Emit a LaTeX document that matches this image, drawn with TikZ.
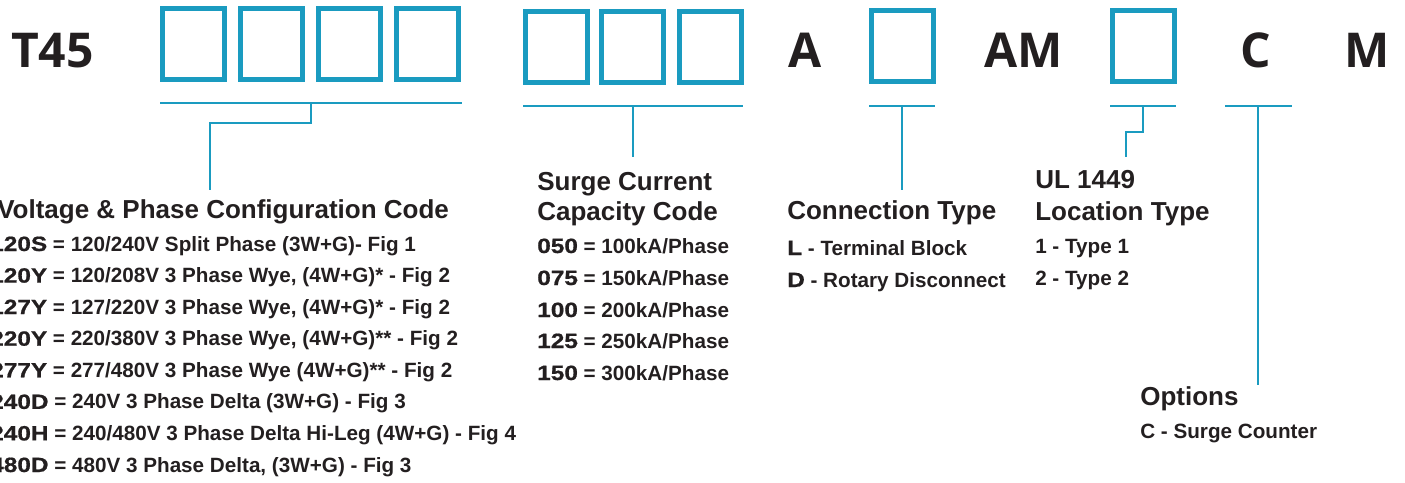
\documentclass[tikz,border=0pt]{standalone}
\usepackage{fontspec}
\setmainfont{Liberation Sans}
\newfontfamily\bigfont{Open Sans}
\newfontfamily\codefont[FakeStretch=1.18,FakeBold=0.8]{Liberation Sans Bold}
\definecolor{codeblue}{RGB}{26,155,192}
\definecolor{ink}{RGB}{35,31,32}
\newcommand{\cd}[1]{{\codefont #1}}
\tikzset{
  digit/.style={draw=codeblue, line width=3.75pt, minimum width=46.5pt, minimum height=53.25pt, inner sep=0pt},
  fixed/.style={font=\bigfont\bfseries\fontsize{36}{36}\selectfont, text=ink, inner sep=0pt, anchor=base},
  bar/.style={draw=codeblue, line width=1.9pt},
  head/.style={font=\bfseries\fontsize{19.5}{22}\selectfont, text=ink, inner sep=0pt, anchor=base west},
  item/.style={font=\bfseries\fontsize{15.5}{18}\selectfont, text=ink, inner sep=0pt, anchor=base west},
}
\begin{document}
\begin{tikzpicture}[x=0.75pt, y=-0.75pt]
   \useasboundingbox (0,0) rectangle (1405,482);
   \node[fixed] (t45) at (52.5,67) {T45};
   \foreach \i/\x in {1/193.5,2/271.5,3/349.5,4/427.5}
      \node[digit] (v\i) at (\x,44) {};
   \foreach \i/\x in {1/556,2/632.5,3/710}
      \node[digit] (s\i) at (\x,46.5) {};
   \node[fixed] (a) at (805,67) {A};
   \node[digit] (ct) at (902,46) {};
   \node[fixed] (am) at (1024,67) {AM};
   \node[digit] (ul) at (1143,46) {};
   \node[fixed] (c) at (1256,67) {C};
   \node[fixed] (m) at (1367.5,67) {M};

   \coordinate (vl) at (160,103);
   \coordinate (vr) at (462,103);
   \coordinate (vm) at (311,103);
   \coordinate (vk) at (210,123);
   \coordinate (vend) at (210,190);
   \draw[bar] (vl) -- (vr);
   \draw[bar] (vm) |- (vk) -- (vend);

   \coordinate (sl) at (523,106);
   \coordinate (sr) at (743,106);
   \coordinate (sm) at (633,106);
   \coordinate (send) at (633,157);
   \draw[bar] (sl) -- (sr);
   \draw[bar] (sm) -- (send);

   \coordinate (cl) at (869,106);
   \coordinate (cr) at (935,106);
   \coordinate (cm) at (902,106);
   \coordinate (cend) at (902,190);
   \draw[bar] (cl) -- (cr);
   \draw[bar] (cm) -- (cend);

   \coordinate (ul1) at (1110,106);
   \coordinate (ur) at (1176,106);
   \coordinate (um) at (1143,106);
   \coordinate (uk) at (1126,132);
   \coordinate (uend) at (1126,157);
   \draw[bar] (ul1) -- (ur);
   \draw[bar] (um) |- (uk) -- (uend);

   \coordinate (ol) at (1225,106);
   \coordinate (or) at (1292,106);
   \coordinate (om) at (1258,106);
   \coordinate (oend) at (1258,385);
   \draw[bar] (ol) -- (or);
   \draw[bar] (om) -- (oend);

   \node[head] (vhead) at (-3,218) {Voltage \& Phase Configuration Code};
   \node[item] (v1r) at (-10,251) {\cd{120S} = 120/240V Split Phase (3W+G)- Fig 1};
   \node[item] (v2r) at (-10,282.6) {\cd{120Y} = 120/208V 3 Phase Wye, (4W+G)* - Fig 2};
   \node[item] (v3r) at (-10,314.1) {\cd{127Y} = 127/220V 3 Phase Wye, (4W+G)* - Fig 2};
   \node[item] (v4r) at (-10,345.7) {\cd{220Y} = 220/380V 3 Phase Wye, (4W+G)** - Fig 2};
   \node[item] (v5r) at (-10,377.3) {\cd{277Y} = 277/480V 3 Phase Wye (4W+G)** - Fig 2};
   \node[item] (v6r) at (-10,408.9) {\cd{240D} = 240V 3 Phase Delta (3W+G) - Fig 3};
   \node[item] (v7r) at (-10,440.4) {\cd{240H} = 240/480V 3 Phase Delta Hi-Leg (4W+G) - Fig 4};
   \node[item] (v8r) at (-10,472) {\cd{480D} = 480V 3 Phase Delta, (3W+G) - Fig 3};

   \node[head] (shead1) at (537,190) {Surge Current};
   \node[head] (shead2) at (537,220) {Capacity Code};
   \node[item] (s1r) at (537,253) {\cd{050} = 100kA/Phase};
   \node[item] (s2r) at (537,285) {\cd{075} = 150kA/Phase};
   \node[item] (s3r) at (537,317) {\cd{100} = 200kA/Phase};
   \node[item] (s4r) at (537,348) {\cd{125} = 250kA/Phase};
   \node[item] (s5r) at (537,380) {\cd{150} = 300kA/Phase};

   \node[head] (chead) at (787,219) {Connection Type};
   \node[item] (c1r) at (787,255) {\cd{L} - Terminal Block};
   \node[item] (c2r) at (787,287) {\cd{D} - Rotary Disconnect};

   \node[head] (uhead1) at (1035,188) {UL 1449};
   \node[head] (uhead2) at (1035,220) {Location Type};
   \node[item] (u1r) at (1035,253) {1 - Type 1};
   \node[item] (u2r) at (1035,285) {2 - Type 2};

   \node[head] (ohead) at (1140,405) {Options};
   \node[item] (o1r) at (1140,438) {C - Surge Counter};
\end{tikzpicture}
\end{document}
